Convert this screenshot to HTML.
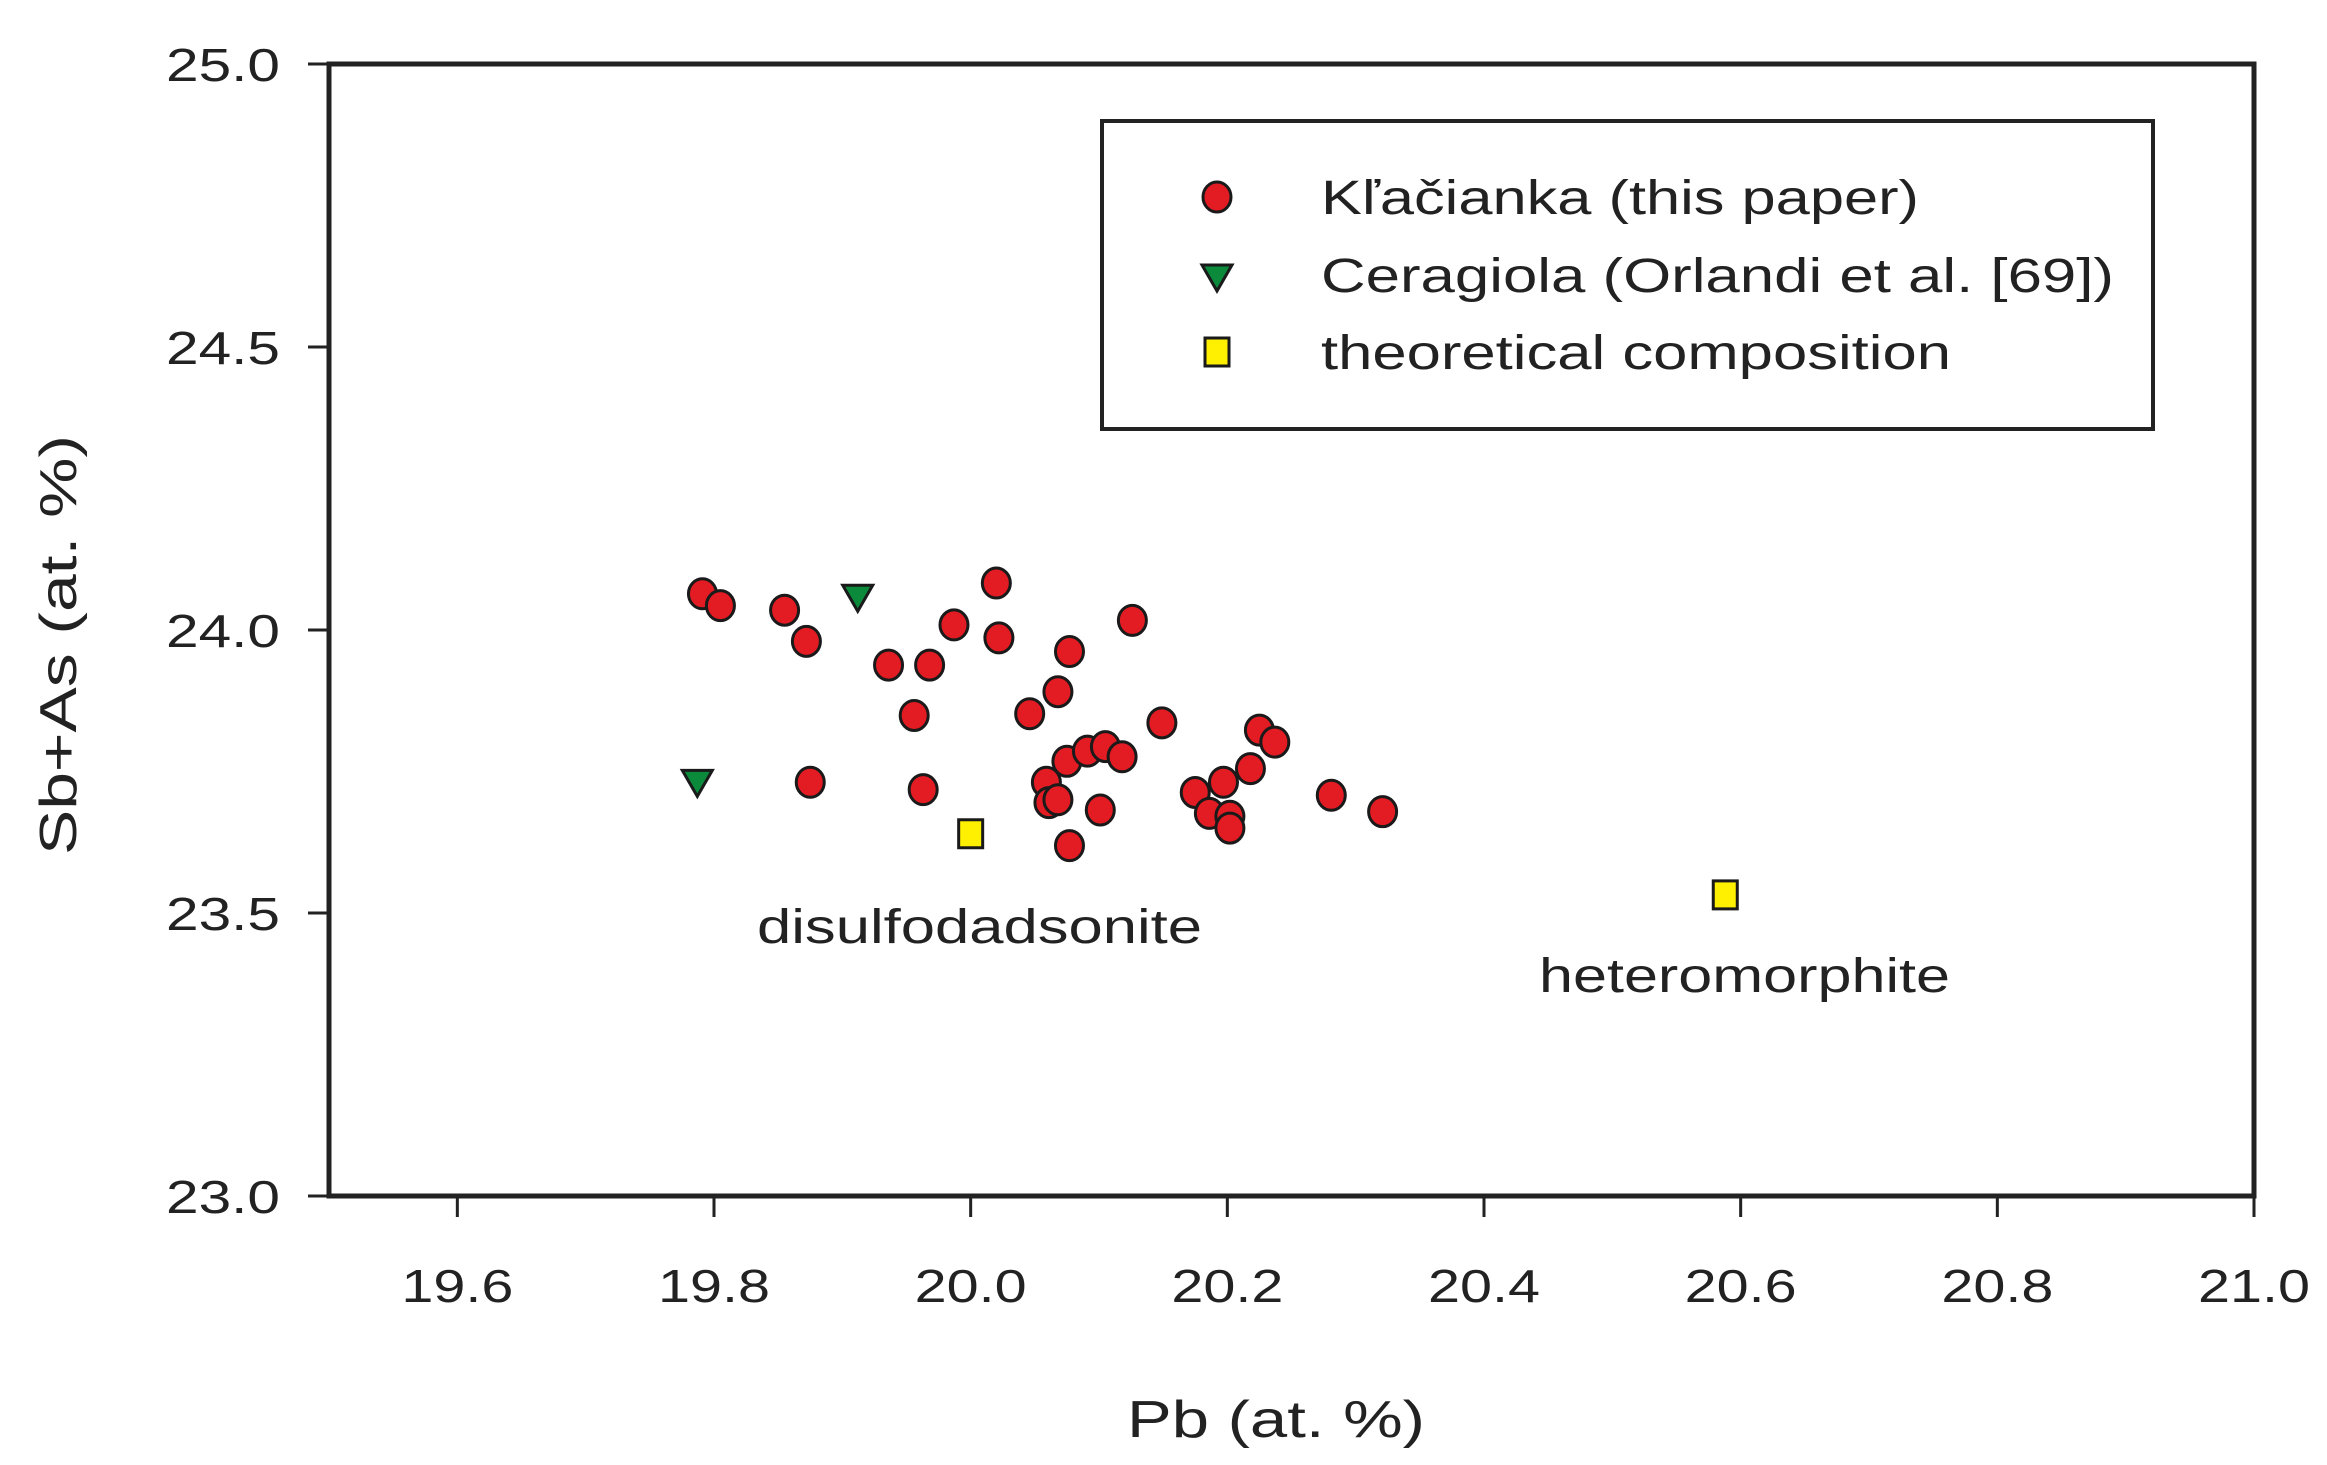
<!DOCTYPE html>
<html><head><meta charset="utf-8"><style>
html,body{margin:0;padding:0;background:#fff}
svg{display:block}
text{font-family:"Liberation Sans",sans-serif;fill:#222}
</style></head><body>
<svg id="chart" width="2327" height="1465" viewBox="0 0 2327 1465" xmlns="http://www.w3.org/2000/svg">
<g id="axes"></g>
<g id="marks"></g>
<g id="legend">
  <rect x="1102" y="121" width="1051" height="308" fill="#fff" stroke="#222" stroke-width="4"/>
  <ellipse cx="1217" cy="197" rx="14" ry="15" fill="#e31b23" stroke="#1a1a1a" stroke-width="3"/>
  <text x="1321" y="214" font-size="48" textLength="598" lengthAdjust="spacingAndGlyphs">Kľačianka (this paper)</text>
  <polygon points="1202,265 1232,265 1217,291" fill="#0b8a3c" stroke="#1a1a1a" stroke-width="3"/>
  <text x="1321" y="292" font-size="48" textLength="793" lengthAdjust="spacingAndGlyphs">Ceragiola (Orlandi et al. [69])</text>
  <rect x="1205" y="338" width="24" height="28" fill="#ffef00" stroke="#1a1a1a" stroke-width="3"/>
  <text x="1321" y="369" font-size="48" textLength="630" lengthAdjust="spacingAndGlyphs">theoretical composition</text>
</g>
<text x="757" y="943" font-size="48" textLength="445" lengthAdjust="spacingAndGlyphs">disulfodadsonite</text>
<text x="1539" y="992" font-size="48" textLength="411" lengthAdjust="spacingAndGlyphs">heteromorphite</text>
<text x="1276" y="1437" font-size="52" text-anchor="middle" textLength="298" lengthAdjust="spacingAndGlyphs">Pb (at. %)</text>
<text transform="translate(76,645) rotate(-90)" font-size="52" text-anchor="middle" textLength="420" lengthAdjust="spacingAndGlyphs">Sb+As (at. %)</text>
</svg>
<script>
const xTicks = [19.6, 19.8, 20.0, 20.2, 20.4, 20.6, 20.8, 21.0];
const xTickLabels = ["19.6","19.8","20.0","20.2","20.4","20.6","20.8","21.0"];
const yTicks = [23.0, 23.5, 24.0, 24.5, 25.0];
const yTickLabels = ["23.0","23.5","24.0","24.5","25.0"];
const klacX = [19.791,19.805,19.855,19.872,19.936,19.968,19.956,19.987,20.020,20.022,20.077,20.068,20.046,20.126,20.149,20.225,20.237,19.875,19.963,20.059,20.075,20.091,20.105,20.118,20.061,20.068,20.101,20.077,20.175,20.197,20.218,20.186,20.202,20.202,20.281,20.321];
const klacY = [24.064,24.043,24.035,23.980,23.938,23.938,23.849,24.009,24.083,23.986,23.962,23.891,23.852,24.017,23.836,23.823,23.802,23.731,23.718,23.731,23.768,23.786,23.794,23.776,23.695,23.700,23.682,23.619,23.713,23.731,23.755,23.676,23.671,23.650,23.708,23.679];
const cerX = [19.912, 19.787];
const cerY = [24.056, 23.729];
const theoX = [20.0, 20.588];
const theoY = [23.640, 23.532];

const NS = "http://www.w3.org/2000/svg";
const L = 329, R = 2254, T = 64, B = 1196;
const X0 = 19.5, X1 = 21.0, Y0 = 23.0, Y1 = 25.0;
const sx = v => L + (v - X0) / (X1 - X0) * (R - L);
const sy = v => B - (v - Y0) / (Y1 - Y0) * (B - T);
function mk(tag, attrs, parent) {
  const e = document.createElementNS(NS, tag);
  for (const k in attrs) e.setAttribute(k, attrs[k]);
  parent.appendChild(e);
  return e;
}
const axes = document.getElementById('axes');
const marks = document.getElementById('marks');
const frame = mk('rect', {x: L, y: T, width: R - L, height: B - T, fill: 'none', stroke: '#222', 'stroke-width': 5}, axes);


xTicks.forEach((v, i) => {
  const t = mk('line', {x1: sx(v), x2: sx(v), y1: B, y2: B + 21, stroke: '#222', 'stroke-width': 3}, axes);
  
  
  const lb = mk('text', {x: sx(v), y: 1302, 'font-size': 46, 'text-anchor': 'middle', textLength: 112, lengthAdjust: 'spacingAndGlyphs'}, axes);
  lb.textContent = xTickLabels[i];
  
  
});
yTicks.forEach((v, i) => {
  const t = mk('line', {x1: L - 21, x2: L, y1: sy(v), y2: sy(v), stroke: '#222', 'stroke-width': 3}, axes);
  
  
  const lb = mk('text', {x: 280, y: sy(v) + 17, 'font-size': 46, 'text-anchor': 'end', textLength: 114, lengthAdjust: 'spacingAndGlyphs'}, axes);
  lb.textContent = yTickLabels[i];
  
  
});
klacX.forEach((v, i) => {
  const c = mk('ellipse', {cx: sx(v), cy: sy(klacY[i]), rx: 14, ry: 15, fill: '#e31b23', stroke: '#1a1a1a', 'stroke-width': 3}, marks);
  
  
});
cerX.forEach((v, i) => {
  const x = sx(v), y = sy(cerY[i]);
  const p = mk('polygon', {points: `${x-15},${y-13} ${x+15},${y-13} ${x},${y+13}`, fill: '#0b8a3c', stroke: '#1a1a1a', 'stroke-width': 3}, marks);
  
  
});
theoX.forEach((v, i) => {
  const r = mk('rect', {x: sx(v) - 12, y: sy(theoY[i]) - 14, width: 24, height: 28, fill: '#ffef00', stroke: '#1a1a1a', 'stroke-width': 3}, marks);
  
  
});
</script>
</body></html>
